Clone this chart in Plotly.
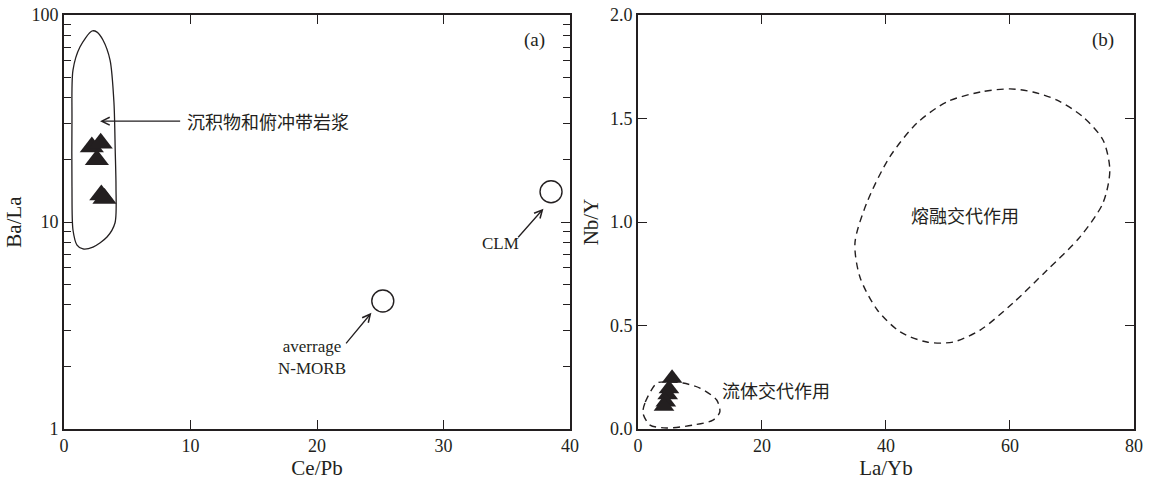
import numpy as np
import plotly.graph_objects as go

# ---------------- Panel (a) data ----------------
a_samples_cepb = [2.2, 2.9, 2.6, 2.95, 3.2]
a_samples_bala = [23.0, 24.0, 20.0, 13.5, 13.0]

nmorb_cepb, nmorb_bala = [25.2], [4.15]
clm_cepb, clm_bala = [38.5], [14.0]

a_env_x = [2.21, 1.26, 0.71, 0.63, 0.63, 0.71, 1.03, 1.50, 2.29, 3.40, 4.03, 4.11,
           4.05, 3.95, 3.64, 3.08, 2.61, 2.21]
a_env_y = [83.7, 70.0, 54.2, 31.1, 14.8, 9.15, 7.74, 7.41, 7.57, 8.46, 9.89, 14.8,
           22.0, 37.6, 60.6, 75.7, 82.7, 83.7]

a_xticks = [0, 10, 20, 30, 40]
a_yticks = [1, 10, 100]
a_yminor = [2, 3, 4, 5, 6, 7, 8, 9, 20, 30, 40, 50, 60, 70, 80, 90]

# ---------------- Panel (b) data ----------------
b_samples_layb = [5.5, 5.0, 4.8, 4.5, 4.2]
b_samples_nby = [0.245, 0.195, 0.165, 0.13, 0.11]

b_melt_x = [60.0, 55.2, 49.8, 45.0, 40.6, 36.9, 35.0, 35.8, 38.6, 42.3, 46.6, 50.8,
            55.2, 60.5, 66.0, 71.3, 75.0, 76.1, 75.0, 71.8, 67.6, 63.7, 60.0]
b_melt_y = [1.643, 1.628, 1.580, 1.478, 1.314, 1.092, 0.899, 0.734, 0.575, 0.469, 0.420, 0.420,
            0.478, 0.609, 0.768, 0.928, 1.092, 1.251, 1.396, 1.507, 1.589, 1.628, 1.643]

b_fluid_x = [3.06, 1.13, 0.81, 1.94, 4.68, 8.87, 12.1, 13.2, 12.7, 10.0, 7.26, 5.16, 3.06]
b_fluid_y = [0.222, 0.126, 0.077, 0.019, 0.005, 0.019, 0.043, 0.082, 0.140, 0.198, 0.222, 0.227, 0.222]

b_xticks = [0, 20, 40, 60, 80]
b_yticks = [0.0, 0.5, 1.0, 1.5, 2.0]

SERIF = "Liberation Serif"
CJK = "Noto Sans CJK SC"
INK = "#231f20"

fig = go.Figure()

# panel a
fig.add_trace(go.Scatter(x=a_env_x, y=a_env_y, mode="lines", line=dict(color=INK, width=1.3, shape="spline", smoothing=0.8),
                         xaxis="x", yaxis="y", showlegend=False, hoverinfo="skip"))
fig.add_trace(go.Scatter(x=a_samples_cepb, y=a_samples_bala, mode="markers",
                         marker=dict(symbol="triangle-up", size=21, color=INK),
                         xaxis="x", yaxis="y", showlegend=False))
fig.add_trace(go.Scatter(x=nmorb_cepb + clm_cepb, y=nmorb_bala + clm_bala, mode="markers",
                         marker=dict(symbol="circle-open", size=22, color=INK, line=dict(width=1.4)),
                         xaxis="x", yaxis="y", showlegend=False))

# panel b
fig.add_trace(go.Scatter(x=b_melt_x, y=b_melt_y, mode="lines",
                         line=dict(color=INK, width=1.4, dash="7px,5px", shape="spline", smoothing=0.8),
                         xaxis="x2", yaxis="y2", showlegend=False, hoverinfo="skip"))
fig.add_trace(go.Scatter(x=b_fluid_x, y=b_fluid_y, mode="lines",
                         line=dict(color=INK, width=1.4, dash="7px,5px", shape="spline", smoothing=0.8),
                         xaxis="x2", yaxis="y2", showlegend=False, hoverinfo="skip"))
fig.add_trace(go.Scatter(x=b_samples_layb, y=b_samples_nby, mode="markers",
                         marker=dict(symbol="triangle-up", size=18, color=INK),
                         xaxis="x2", yaxis="y2", showlegend=False))

axis_common = dict(showline=True, linecolor=INK, linewidth=1.6, mirror="ticks", ticks="inside",
                   ticklen=9, tickwidth=1.4, tickcolor=INK, showgrid=False, zeroline=False,
                   automargin=False, ticklabeloverflow="allow",
                   tickfont=dict(family=SERIF, size=18, color=INK),
                   title_font=dict(family=SERIF, size=21, color=INK))

fig.update_layout(
    width=1151, height=481,
    margin=dict(l=64, r=17, t=15, b=52),
    paper_bgcolor="white", plot_bgcolor="white",
    xaxis=dict(domain=[0, 0.4729], range=[0, 40], tickvals=a_xticks, anchor="y",
               title=dict(text="Ce/Pb", standoff=2), **axis_common),
    yaxis=dict(type="log", range=[0, 2], tickvals=a_yticks, ticktext=[str(v) for v in a_yticks], anchor="x",
               minor=dict(tickvals=a_yminor, ticks="inside", ticklen=7, tickwidth=1.3, tickcolor=INK),
               title=dict(text="Ba/La", standoff=4), **axis_common),
    xaxis2=dict(domain=[0.5364, 1], range=[0, 80], tickvals=b_xticks, anchor="y2",
                title=dict(text="La/Yb", standoff=2), **axis_common),
    yaxis2=dict(range=[0, 2], tickvals=b_yticks, ticktext=[f"{v:.1f}" for v in b_yticks], anchor="x2",
                title=dict(text="Nb/Y", standoff=6), **axis_common),
)

annots = []
# panel labels
annots.append(dict(xref="x domain", yref="y domain", x=0.955, y=0.94, text="(a)", showarrow=False,
                   xanchor="right", yanchor="middle", font=dict(family=SERIF, size=19, color=INK)))
annots.append(dict(xref="x2 domain", yref="y2 domain", x=0.963, y=0.94, text="(b)", showarrow=False,
                   xanchor="right", yanchor="middle", font=dict(family=SERIF, size=19, color=INK)))

# arrows panel a (log axis -> use log10 coordinates)
annots.append(dict(xref="x", yref="y", axref="x", ayref="y", x=2.85, y=np.log10(30.7),
                   ax=9.3, ay=np.log10(30.7), text="", showarrow=True, arrowhead=5, arrowsize=1.2,
                   arrowwidth=1.3, arrowcolor=INK))
annots.append(dict(xref="x", yref="y", x=9.6, y=np.log10(30.7), text="沉积物和俯冲带岩浆", showarrow=False,
                   xanchor="left", yanchor="middle", font=dict(family=CJK, size=18, color=INK)))

annots.append(dict(xref="x", yref="y", axref="x", ayref="y", x=24.3, y=np.log10(3.64),
                   ax=22.2, ay=np.log10(2.55), text="", showarrow=True, arrowhead=5, arrowsize=1.2,
                   arrowwidth=1.3, arrowcolor=INK))
annots.append(dict(xref="x", yref="y", x=19.6, y=np.log10(2.22), text="averrage<br>N-MORB", showarrow=False,
                   xanchor="center", yanchor="middle", align="center",
                   font=dict(family=SERIF, size=17, color=INK)))

annots.append(dict(xref="x", yref="y", axref="x", ayref="y", x=37.9, y=np.log10(11.6),
                   ax=35.8, ay=np.log10(8.3), text="", showarrow=True, arrowhead=5, arrowsize=1.2,
                   arrowwidth=1.3, arrowcolor=INK))
annots.append(dict(xref="x", yref="y", x=34.5, y=np.log10(7.9), text="CLM", showarrow=False,
                   xanchor="center", yanchor="middle", font=dict(family=SERIF, size=17, color=INK)))

# panel b text
annots.append(dict(xref="x2", yref="y2", x=52.7, y=1.034, text="熔融交代作用", showarrow=False,
                   xanchor="center", yanchor="middle", font=dict(family=CJK, size=18, color=INK)))
annots.append(dict(xref="x2", yref="y2", x=13.2, y=0.19, text="流体交代作用", showarrow=False,
                   xanchor="left", yanchor="middle", font=dict(family=CJK, size=18, color=INK)))

fig.update_layout(annotations=annots)

# remove the default 8px page margin so the figure sits at the window origin
fig.write_html("out.html", config={"displayModeBar": False},
               post_script="document.body.style.margin='0';document.body.style.overflow='hidden';")
